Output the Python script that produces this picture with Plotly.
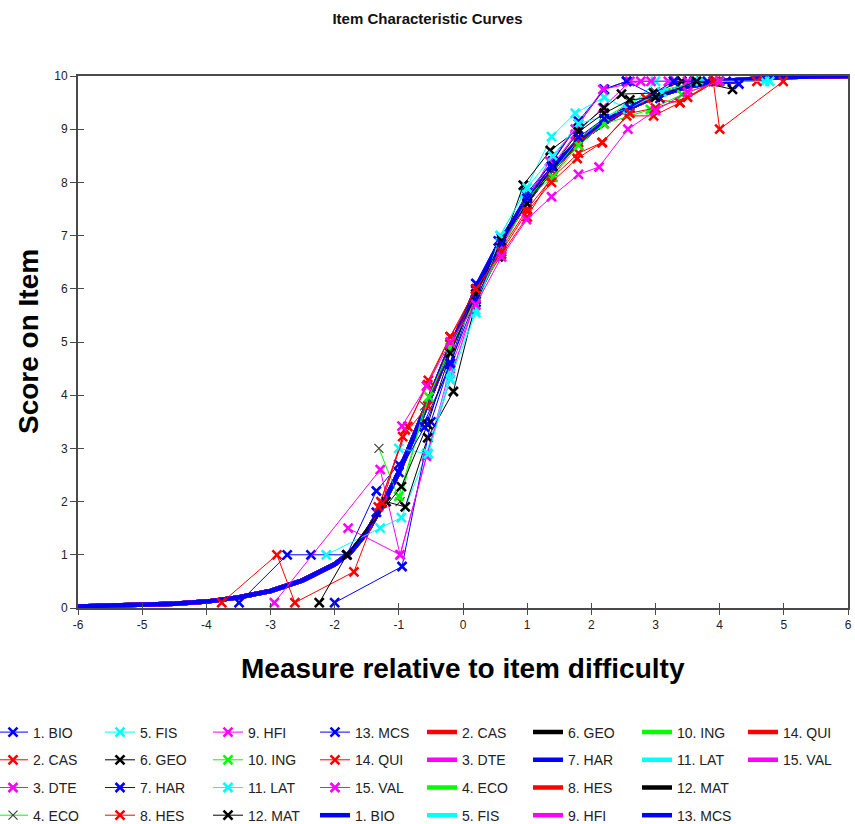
import plotly.graph_objects as go

# ---------------- data ----------------
items = ["1. BIO", "2. CAS", "3. DTE", "4. ECO", "5. FIS", "6. GEO", "7. HAR", "8. HES",
         "9. HFI", "10. ING", "11. LAT", "12. MAT", "13. MCS", "14. QUI", "15. VAL"]
colors = ["#0000FF", "#FF0000", "#FF00FF", "#00FF00", "#00FFFF", "#000000", "#0000FF", "#FF0000",
          "#FF00FF", "#00FF00", "#00FFFF", "#000000", "#0000FF", "#FF0000", "#FF00FF"]

# model (expected score) curve
model_x = [-6, -5.5, -5, -4.5, -4, -3.5, -3, -2.5, -2, -1.75, -1.5, -1.25, -1, -0.75, -0.5, -0.25,
           0, 0.25, 0.5, 0.75, 1, 1.25, 1.5, 1.75, 2, 2.5, 3, 3.5, 4, 4.5, 5, 6]
model_y = [0.03, 0.04, 0.05, 0.08, 0.12, 0.2, 0.32, 0.52, 0.82, 1.05, 1.42, 1.95, 2.55, 3.25, 4.0, 4.75,
           5.45, 6.1, 6.7, 7.2, 7.65, 8.05, 8.4, 8.7, 8.95, 9.35, 9.62, 9.8, 9.9, 9.95, 9.98, 10.0]

# empirical points per item
emp_x = {
    "1. BIO": [-3.49, -2.74, -2.37, -1.81, -1.35, -1.0, -0.6, -0.2, 0.2, 0.6, 1.0, 1.4, 1.8, 2.2, 2.55, 3.3],
    "2. CAS": [-3.76, -2.9, -2.62, -1.7, -1.28, -0.9, -0.55, -0.2, 0.2, 0.6, 1.0, 1.4, 1.8, 2.17, 2.55, 2.97, 3.38, 3.94],
    "3. DTE": [-2.94, -1.29, -0.98, -0.55, -0.2, 0.2, 0.6, 1.0, 1.38, 1.75, 2.18, 2.6, 3.2, 3.9],
    "4. ECO": [-1.31, -0.98, -0.6, -0.25, 0.2, 0.6, 1.0, 1.4, 1.8, 2.2, 2.6, 3.0, 3.5],
    "5. FIS": [-2.13, -1.29, -0.96, -0.57, -0.2, 0.2, 0.58, 0.95, 1.38, 1.75, 2.2, 2.57, 3.0, 4.7],
    "6. GEO": [-2.24, -1.81, -1.2, -0.9, -0.55, -0.15, 0.2, 0.55, 0.94, 1.36, 1.8, 2.2, 2.47, 2.97, 3.41],
    "7. HAR": [-2.0, -0.95, -0.5, -0.2, 0.2, 0.55, 1.0, 1.4, 1.8, 2.2, 2.55, 3.07, 3.6, 4.1],
    "8. HES": [-1.26, -0.94, -0.55, -0.2, 0.2, 0.6, 1.0, 1.38, 1.8, 2.2, 2.85, 3.38, 3.94, 4.58],
    "9. HFI": [-1.79, -0.98, -0.57, -0.2, 0.2, 0.6, 1.0, 1.35, 1.75, 2.18, 2.77, 2.93, 3.5],
    "10. ING": [-1.0, -0.53, -0.2, 0.2, 0.6, 1.0, 1.4, 1.8, 2.2, 2.92, 3.41, 4.0],
    "11. LAT": [-1.0, -0.54, -0.2, 0.2, 0.58, 1.0, 1.4, 1.8, 2.57, 3.1, 3.7, 4.78],
    "12. MAT": [-1.81, -0.96, -0.55, -0.2, 0.2, 0.6, 1.0, 1.4, 1.8, 2.2, 2.6, 3.0, 3.64, 4.2],
    "13. MCS": [-1.35, -1.0, -0.6, -0.2, 0.2, 0.6, 1.0, 1.38, 1.8, 2.2, 2.6, 3.28, 3.81, 4.3],
    "14. QUI": [-1.32, -0.86, -0.54, -0.2, 0.2, 0.6, 1.0, 1.38, 1.78, 2.17, 2.6, 3.0, 3.5, 3.9, 4.0, 4.99],
    "15. VAL": [-0.95, -0.57, -0.2, 0.2, 0.6, 0.99, 1.38, 1.8, 2.12, 2.57, 3.0, 3.5, 4.0],
}
emp_y = {
    "1. BIO": [0.1, 1.0, 1.0, 1.0, 2.2, 2.7, 3.5, 4.55, 6.0, 6.95, 7.8, 8.4, 9.15, 9.75, 9.9, 9.9],
    "2. CAS": [0.1, 1.0, 0.1, 0.68, 2.0, 3.35, 4.2, 5.1, 5.9, 6.75, 7.5, 8.1, 8.55, 8.75, 9.25, 9.25, 9.5, 9.9],
    "3. DTE": [0.1, 2.6, 1.0, 2.9, 4.5, 5.75, 6.8, 7.6, 8.3, 8.9, 9.4, 9.9, 9.9, 9.9],
    "4. ECO": [3.0, 2.0, 3.8, 4.7, 5.8, 6.8, 7.7, 8.2, 8.8, 9.2, 9.5, 9.7, 9.85],
    "5. FIS": [1.0, 1.5, 1.7, 2.9, 4.4, 5.6, 7.0, 7.8, 8.86, 9.3, 9.6, 9.38, 9.9, 9.9],
    "6. GEO": [0.1, 1.0, 2.0, 1.9, 3.2, 4.07, 5.75, 6.6, 7.95, 8.6, 9.0, 9.4, 9.66, 9.68, 9.9],
    "7. HAR": [0.1, 0.78, 3.5, 4.6, 6.1, 6.9, 7.75, 8.4, 9.1, 9.75, 9.9, 9.58, 9.9, 9.9],
    "8. HES": [1.97, 3.22, 3.8, 4.95, 5.85, 6.65, 7.35, 8.1, 8.75, 9.1, 9.58, 9.5, 9.9, 9.9],
    "9. HFI": [1.5, 1.0, 2.85, 4.3, 5.8, 6.8, 7.7, 8.4, 9.0, 9.75, 9.9, 9.9, 9.9],
    "10. ING": [2.1, 3.97, 4.9, 5.8, 6.7, 7.7, 8.1, 8.7, 9.1, 9.37, 9.65, 9.9],
    "11. LAT": [3.0, 2.9, 4.3, 5.55, 7.0, 7.9, 8.5, 9.1, 9.38, 9.7, 9.9, 9.9],
    "12. MAT": [1.0, 2.28, 3.45, 4.79, 5.9, 6.9, 7.6, 8.3, 8.95, 9.3, 9.55, 9.6, 9.9, 9.75],
    "13. MCS": [1.8, 2.55, 3.4, 4.6, 5.8, 6.85, 7.7, 8.3, 8.85, 9.2, 9.4, 9.9, 9.9, 9.85],
    "14. QUI": [1.9, 3.41, 4.28, 5.1, 6.0, 6.7, 7.45, 8.0, 8.45, 8.75, 9.3, 9.4, 9.6, 9.9, 9.0, 9.9],
    "15. VAL": [3.42, 4.17, 5.0, 5.7, 6.6, 7.3, 7.73, 8.15, 8.29, 9.0, 9.35, 9.7, 9.9],
}

x_ticks = [-6, -5, -4, -3, -2, -1, 0, 1, 2, 3, 4, 5, 6]
y_ticks = [0, 1, 2, 3, 4, 5, 6, 7, 8, 9, 10]

# ---------------- figure ----------------
W, H = 855, 824
L, R, T, B = 78, 848, 76, 608
FONT = "Liberation Sans, Arial, sans-serif"

fig = go.Figure()

# legend entries in column-major order: 15 empirical then 15 model
entries = [("emp", i) for i in range(15)] + [("mod", i) for i in range(15)]
text_px = [36, 143, 251, 358, 465, 571, 680, 786]
row1_center_px = 727
TEXT_OFF = 43     # distance from legend left edge to start of label text
ROW_H = 21        # approx. legend item height at font 14
ROW_STEP = 27.5


def legend_name(g):
    return "legend" if g == 0 else "legend%d" % (g + 1)


def add_entry(kind, i, rank):
    col = rank // 4
    lg = legend_name(col)
    name = items[i]
    if kind == "mod":
        return go.Scatter(x=model_x, y=model_y, mode="lines", name=name,
                          line=dict(color=colors[i], width=4.5), legend=lg,
                          legendgroup="m%d" % i, legendrank=rank)
    if i == 3:
        mk = dict(symbol="x-thin", size=9, line=dict(color="#404040", width=1.2), color="#404040")
    else:
        mk = dict(symbol="x-thin", size=9, line=dict(color=colors[i], width=2.6), color=colors[i])
    return go.Scatter(x=emp_x[name], y=emp_y[name], mode="lines+markers", name=name,
                      line=dict(color=colors[i], width=1), marker=mk, legend=lg,
                      legendgroup="e%d" % i, legendrank=rank)


traces = {}
for rank, (kind, i) in enumerate(entries):
    traces[(kind, i)] = add_entry(kind, i, rank)

# draw model curves first (BIO model last so the blue one is on top), then empirical
for i in list(range(1, 15)) + [0]:
    fig.add_trace(traces[("mod", i)])
for i in range(15):
    fig.add_trace(traces[("emp", i)])

# invisible trace on overlay axes to draw inner half of the ticks
fig.add_trace(go.Scatter(x=[0], y=[-5], xaxis="x2", yaxis="y2", mode="markers",
                         marker=dict(opacity=0), showlegend=False, hoverinfo="skip"))

tick_common = dict(showgrid=False, zeroline=False, tickcolor="#4a4a4a", tickwidth=1)

fig.update_layout(
    width=W, height=H,
    margin=dict(l=L, r=W - R, t=T, b=H - B, pad=0, autoexpand=False),
    paper_bgcolor="white", plot_bgcolor="white",
    font=dict(family=FONT, size=12, color="#222222"),
    title=dict(text="<b>Item Characteristic Curves</b>", x=0.5, xanchor="center",
               y=1 - 19 / H, yanchor="middle", yref="container",
               font=dict(family=FONT, size=15, color="#111111")),
    xaxis=dict(range=[-6, 6], tickvals=x_ticks, ticktext=[str(v) for v in x_ticks],
               ticks="outside", ticklen=5, showline=True, mirror=True,
               linecolor="#4a4a4a", linewidth=2,
               tickfont=dict(size=12, color="#222222"), **tick_common),
    yaxis=dict(range=[0, 10], tickvals=y_ticks, ticktext=[str(v) for v in y_ticks],
               ticks="outside", ticklen=6, showline=True, mirror=True,
               linecolor="#4a4a4a", linewidth=2,
               tickfont=dict(size=12, color="#222222"), **tick_common),
    xaxis2=dict(range=[-6, 6], tickvals=x_ticks, overlaying="x", showticklabels=False,
                ticks="inside", ticklen=5, showline=False, anchor="y2", **tick_common),
    yaxis2=dict(range=[0, 10], tickvals=y_ticks, overlaying="y", showticklabels=False,
                ticks="inside", ticklen=6, showline=False, anchor="x2", **tick_common),
    annotations=[
        dict(text="<b>Measure relative to item difficulty</b>", xref="paper", yref="paper",
             x=0.5, y=(B - 668) / (B - T), xanchor="center", yanchor="middle", showarrow=False,
             font=dict(family=FONT, size=28, color="#000000")),
        dict(text="<b>Score on Item</b>", xref="paper", yref="paper",
             x=(28 - L) / (R - L), y=0.5, xanchor="center", yanchor="middle", showarrow=False,
             textangle=-90, font=dict(family=FONT, size=28, color="#000000")),
    ],
    hovermode=False,
)

leg_common = dict(orientation="v", xanchor="left", yanchor="top",
                  bgcolor="rgba(0,0,0,0)", borderwidth=0,
                  font=dict(family=FONT, size=14, color="#222222"),
                  tracegroupgap=ROW_STEP - ROW_H, traceorder="grouped",
                  itemclick=False, itemdoubleclick=False)
legend_top_px = row1_center_px - ROW_H / 2
for col in range(8):
    fig.update_layout({legend_name(col): dict(
        x=(text_px[col] - TEXT_OFF - L) / (R - L), y=(B - legend_top_px) / (B - T), **leg_common)})

fig.write_html("out.html", config={"displayModeBar": False},
               post_script="document.body.style.margin='0';")
